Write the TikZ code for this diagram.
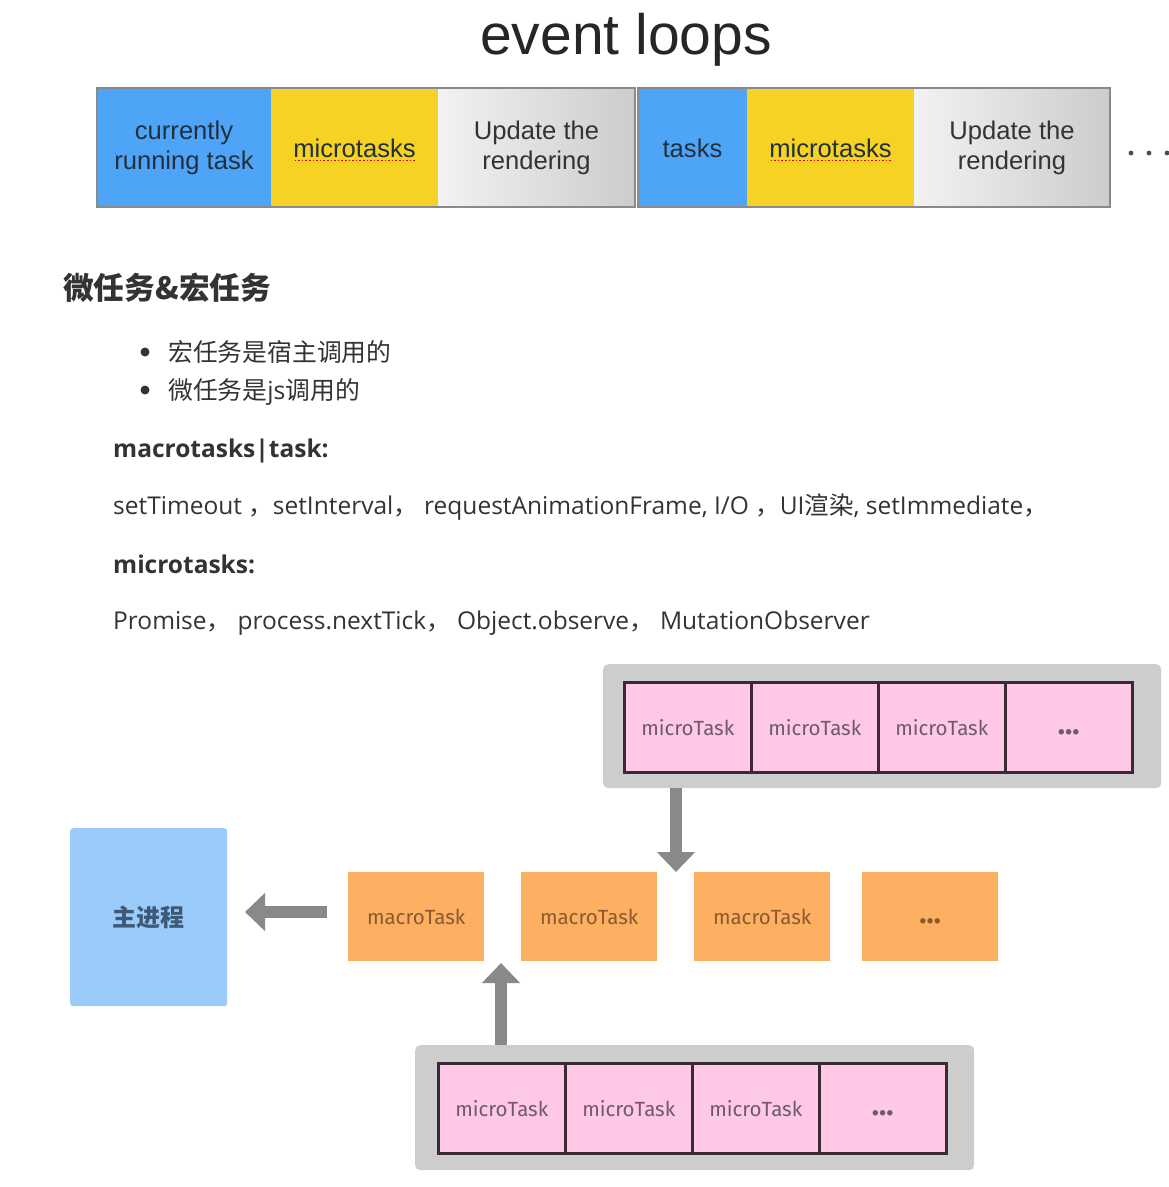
\documentclass[tikz,border=0pt]{standalone}
\usepackage{fontspec}
\setmainfont{Open Sans}
\newfontfamily\cjk{Noto Sans CJK SC}
\newfontfamily\helv{Liberation Sans}
\newfontfamily\casual{Fira Sans}
\usetikzlibrary{arrows.meta}
\definecolor{barblue}{HTML}{4EA5F8}
\definecolor{baryellow}{HTML}{F6D225}
\definecolor{frame}{HTML}{8A8A8A}
\definecolor{txt}{HTML}{333333}
\definecolor{bartxt}{HTML}{22303C}
\definecolor{grpgray}{HTML}{CDCDCD}
\definecolor{pinkcell}{HTML}{FEC8E6}
\definecolor{celledge}{HTML}{3A2A33}
\definecolor{orangebox}{HTML}{FDB062}
\definecolor{mainblue}{HTML}{9ACBFB}
\definecolor{arrowgray}{HTML}{898989}
\definecolor{microtxt}{HTML}{6E5A6A}
\definecolor{macrotxt}{HTML}{8A5A2E}
\definecolor{maintxt}{HTML}{3D5975}
\tikzset{
  seg/.style={rectangle, inner sep=0pt, outer sep=0pt, minimum height=119pt, anchor=north west,
    align=center, text=bartxt, font=\helv\fontsize{25.6}{30}\selectfont},
  grayseg/.style={seg, text=txt, left color=white!95!black, right color=black!20},
  barframe/.style={draw=frame, line width=2pt},
  wavy/.style={draw=red!85!black, dotted, line width=1.6pt},
  grp/.style={rectangle, rounded corners=5pt, fill=grpgray, inner sep=0pt, anchor=north west},
  cell/.style={rectangle, draw=celledge, line width=2.5pt, fill=pinkcell, minimum width=127pt,
    minimum height=90pt, inner sep=0pt, anchor=north west, text=microtxt,
    font=\casual\fontsize{20.5}{24}\selectfont},
  macro/.style={rectangle, fill=orangebox, minimum width=136pt, minimum height=89pt, inner sep=0pt,
    anchor=north west, text=macrotxt, font=\casual\fontsize{20.5}{24}\selectfont},
  dots/.style={font=\casual\bfseries\fontsize{30}{34}\selectfont},
  bigarrow/.style={draw=arrowgray, line width=12pt, -{Triangle[width=37pt,length=20pt]}},
  body/.style={anchor=base west, inner sep=0pt, text=txt, font=\fontsize{24.5}{28}\selectfont},
  bodyb/.style={body, font=\bfseries\fontsize{24.5}{28}\selectfont},
  cjkbody/.style={anchor=base west, inner sep=0pt, text=txt, font=\cjk\fontsize{24.8}{28}\selectfont},
}
\begin{document}
\begin{tikzpicture}[x=1pt,y=-1pt]
\useasboundingbox[fill=white] (0,0) rectangle (1169,1187);

% title
\node[text=black!85, font=\helv\fontsize{57}{64}\selectfont] (title) at (626,40) {event loops};

% event loop bar, first group
\node[seg, fill=barblue, minimum width=174pt] (b1) at (97,88) {\rule{0pt}{10pt}currently\\running task};
\node[seg, fill=baryellow, minimum width=167pt] (b2) at (271,88) {\rule{0pt}{21pt}microtasks};
\node[grayseg, minimum width=197pt] (b3) at (438,88) {\rule{0pt}{10pt}Update the\\rendering};
\draw[barframe] (b1.north west) rectangle (b3.south east);
% second group
\node[seg, fill=barblue, minimum width=109pt] (b4) at (638,88) {\rule{0pt}{21pt}tasks};
\node[seg, fill=baryellow, minimum width=167pt] (b5) at (747,88) {\rule{0pt}{21pt}microtasks};
\node[grayseg, minimum width=196pt] (b6) at (914,88) {\rule{0pt}{10pt}Update the\\rendering};
\draw[barframe] (b4.north west) rectangle (b6.south east);
% spell-check underlines
\draw[wavy] ([xshift=-60pt,yshift=-13pt]b2.center) -- ([xshift=60pt,yshift=-13pt]b2.center);
\draw[wavy] ([xshift=-60pt,yshift=-13pt]b5.center) -- ([xshift=60pt,yshift=-13pt]b5.center);
% continuation dots
\fill[black!70] (1131,153) circle (2.4) (1149,153) circle (2.4) (1167,153) circle (2.4);

% text block
\node[anchor=base west, inner sep=0pt, text=txt, font=\cjk\bfseries\fontsize{30.7}{34}\selectfont] (head) at (63,299) {微任务\&宏任务};
\fill[txt] (145,352) circle (4.5);
\node[cjkbody] (li1) at (168,361) {宏任务是宿主调用的};
\fill[txt] (145,390) circle (4.5);
\node[cjkbody] (li2) at (168,399) {微任务是{\fontspec{Open Sans}js}调用的};
\node[bodyb] (mh) at (113,457) {macrotasks|task:};
\node[body] (ml) at (113,514) {setTimeout {\cjk ，}setInterval{\cjk ，} requestAnimationFrame, I/O {\cjk ，}UI{\cjk 渲染}, setImmediate{\cjk ，}};
\node[bodyb] (mih) at (113,573) {microtasks:};
\node[body] (mil) at (113,629) {Promise{\cjk ，} process.nextTick{\cjk ，} Object.observe{\cjk ，} MutationObserver};

% upper microtask queue
\node[grp, minimum width=558pt, minimum height=124pt] (gtop) at (603,664) {};
\node[cell] (t1) at (623,681) {microTask};
\node[cell] (t2) at (750,681) {microTask};
\node[cell] (t3) at (877,681) {microTask};
\node[cell, dots] (t4) at (1004,681) {\vphantom{Ag}...};

% macro task queue
\node[macro] (m1) at (348,872) {macroTask};
\node[macro] (m2) at (521,872) {macroTask};
\node[macro] (m3) at (694,872) {macroTask};
\node[macro, dots] (m4) at (862,872) {\vphantom{Ag}...};

% main process
\node[rectangle, rounded corners=3pt, fill=mainblue, minimum width=157pt, minimum height=178pt,
  inner sep=0pt, anchor=north west, text=maintxt, font=\cjk\bfseries\fontsize{24}{28}\selectfont]
  (main) at (70,828) {主进程};

% lower microtask queue
\node[grp, minimum width=559pt, minimum height=125pt] (gbot) at (415,1045) {};
\node[cell] (u1) at (437,1062) {microTask};
\node[cell] (u2) at (564,1062) {microTask};
\node[cell] (u3) at (691,1062) {microTask};
\node[cell, dots] (u4) at (818,1062) {\vphantom{Ag}...};

% arrows
\coordinate (dtip) at (676,872);
\draw[bigarrow] (gtop.south -| dtip) -- (dtip);
\coordinate (ltail) at (327,912);
\coordinate (ltip) at (245,912);
\draw[bigarrow] (ltail) -- (ltip);
\coordinate (utip) at (501,963);
\draw[bigarrow] (gbot.north -| utip) -- (utip);
\end{tikzpicture}
\end{document}
